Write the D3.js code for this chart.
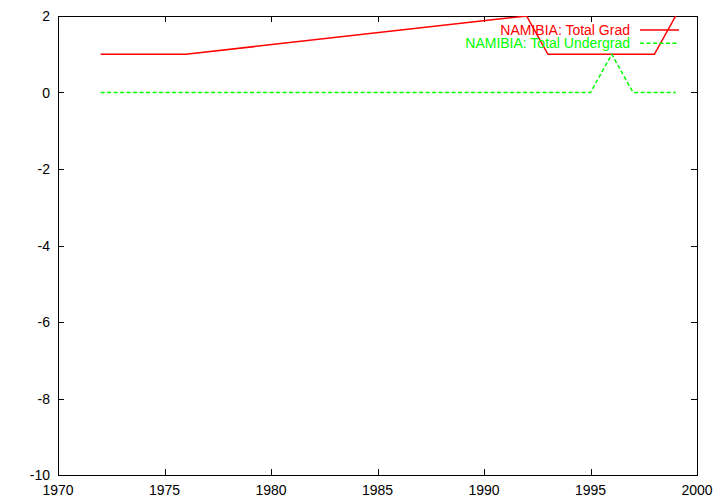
<!DOCTYPE html>
<html><head><meta charset="utf-8">
<script src="https://cdn.jsdelivr.net/npm/d3@7"></script>
<style>body{margin:0;background:#fff}svg{display:block}text{font-family:"Liberation Sans",Arial,sans-serif;font-size:14px}</style>
</head><body><svg id="c" width="720" height="504"></svg>
<script>
const gradYears = [1972, 1976, 1992, 1993, 1998, 1999];
const gradValues = [1, 1, 2, 1, 1, 2];
const undergradYears = [1972, 1995, 1996, 1997, 1999];
const undergradValues = [0, 0, 1, 0, 0];
const xTicks = [1970, 1975, 1980, 1985, 1990, 1995, 2000];
const yTicks = [2, 0, -2, -4, -6, -8, -10];
const seriesNames = ["NAMIBIA: Total Grad", "NAMIBIA: Total Undergrad"];

const L = 58, R = 697, T = 16, B = 475;
const svg = d3.select("#c");
const x = d3.scaleLinear().domain([1970, 2000]).range([L, R]);
const y = d3.scaleLinear().domain([-10, 2]).range([B, T]);

svg.append("defs").append("clipPath").attr("id", "clip")
  .append("rect").attr("x", L).attr("y", T).attr("width", R - L).attr("height", B - T);

const axisColor = "#000";
const tl = 6;
const g = svg.append("g").attr("stroke", axisColor).attr("stroke-width", 1).attr("shape-rendering", "crispEdges");
xTicks.forEach(v => {
  const px = Math.round(x(v)) + 0.5;
  g.append("line").attr("x1", px).attr("x2", px).attr("y1", B).attr("y2", B - tl);
  g.append("line").attr("x1", px).attr("x2", px).attr("y1", T).attr("y2", T + tl);
});
yTicks.forEach(v => {
  const py = Math.round(y(v)) + 0.5;
  g.append("line").attr("x1", L).attr("x2", L + tl).attr("y1", py).attr("y2", py);
  g.append("line").attr("x1", R).attr("x2", R - tl).attr("y1", py).attr("y2", py);
});
g.append("rect").attr("x", L + 0.5).attr("y", T + 0.5).attr("width", R - L).attr("height", B - T).attr("fill", "none");

xTicks.forEach(v => {
  svg.append("text").attr("x", x(v)).attr("y", B + 20).attr("text-anchor", "middle").text(v);
});
yTicks.forEach(v => {
  svg.append("text").attr("x", L - 8).attr("y", y(v) + 5).attr("text-anchor", "end").text(v);
});

const line = d3.line().x(d => x(d[0])).y(d => y(d[1]));
const plot = svg.append("g").attr("clip-path", "url(#clip)");
plot.append("path").datum(gradYears.map((yr, i) => [yr, gradValues[i]]))
  .attr("d", line).attr("fill", "none").attr("stroke", "#ff0000").attr("stroke-width", 1.5);
plot.append("path").datum(undergradYears.map((yr, i) => [yr, undergradValues[i]]))
  .attr("d", line).attr("fill", "none").attr("stroke", "#00ff00").attr("stroke-width", 1.5)
  .attr("stroke-dasharray", "4,2.5");

const legColors = ["#ff0000", "#00ff00"];
const legDash = [null, "4,2.5"];
seriesNames.forEach((n, i) => {
  const ly = 30 + i * 13.3;
  svg.append("text").attr("x", 630).attr("y", ly + 5).attr("text-anchor", "end")
    .attr("fill", legColors[i]).text(n);
  svg.append("line").attr("x1", 640).attr("x2", 679).attr("y1", ly).attr("y2", ly)
    .attr("stroke", legColors[i]).attr("stroke-width", 1.5).attr("stroke-dasharray", legDash[i]);
});
</script></body></html>
